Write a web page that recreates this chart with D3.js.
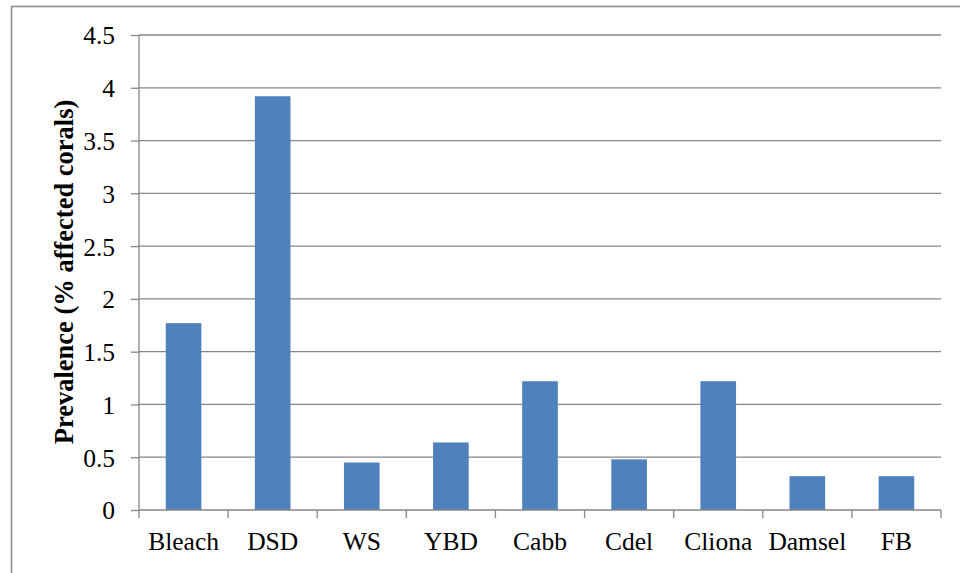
<!DOCTYPE html>
<html><head><meta charset="utf-8">
<script src="https://cdn.jsdelivr.net/npm/d3@7"></script>
<style>body{margin:0;background:#fff}svg{display:block}svg text{font-family:"Liberation Serif","Times New Roman",Times,"DejaVu Serif",serif}</style>
</head><body>
<svg id="c" width="960" height="573"></svg>
<script>
const categories = ["Bleach","DSD","WS","YBD","Cabb","Cdel","Cliona","Damsel","FB"];
const values = [1.77, 3.92, 0.45, 0.64, 1.22, 0.48, 1.22, 0.32, 0.32];
const yTicks = [0, 0.5, 1, 1.5, 2, 2.5, 3, 3.5, 4, 4.5];
const yTickLabels = ["0","0.5","1","1.5","2","2.5","3","3.5","4","4.5"];
const yTitle = "Prevalence (% affected corals)";

(function(){
const svg = d3.select("#c");
const grey = "#868686";
const pL = 139, pR = 941, pT = 35, pB = 510;

svg.append("rect").attr("x",11.5).attr("y",6.5).attr("width",1200).attr("height",800)
  .attr("fill","none").attr("stroke","#8c8c8c").attr("stroke-width",1.6);

const x = d3.scaleBand().domain(categories).range([pL,pR]).paddingInner(0.6).paddingOuter(0.3);
const xb = d3.scaleBand().domain(categories).range([pL,pR]);
const y = d3.scaleLinear().domain([0,4.5]).range([pB,pT]);

svg.append("g").selectAll("line").data(yTicks.filter(d=>d>0)).join("line")
  .attr("x1",pL).attr("x2",pR).attr("y1",d=>y(d)).attr("y2",d=>y(d))
  .attr("stroke",grey).attr("stroke-width",1.3);

svg.append("g").selectAll("rect").data(values).join("rect")
  .attr("x",(d,i)=>x(categories[i])).attr("width",x.bandwidth())
  .attr("y",d=>y(d)).attr("height",d=>y(0)-y(d)).attr("fill","#4F81BD");

const ya = d3.axisLeft(y).tickValues(yTicks).tickFormat((d,i)=>yTickLabels[i]).tickSize(8).tickPadding(16);
const gy = svg.append("g").attr("transform",`translate(${pL},0)`).call(ya);
gy.attr("font-family",null);
gy.select(".domain").attr("stroke",grey).attr("stroke-width",1.3).attr("d",`M0,${pT}V${pB}`);
gy.selectAll(".tick line").attr("stroke",grey).attr("stroke-width",1.3);
gy.selectAll(".tick text").attr("font-size",25.5).attr("fill","#000").attr("dy","0.35em");

const xa = d3.axisBottom(xb).tickSize(0).tickPadding(0);
const gx = svg.append("g").attr("transform",`translate(0,${pB})`).call(xa);
gx.attr("font-family",null);
gx.select(".domain").attr("stroke",grey).attr("stroke-width",1.3).attr("d",`M${pL},0H${pR}`);
gx.selectAll(".tick text").attr("font-size",25.5).attr("fill","#000").attr("y",40).attr("dy",0);
const bounds = categories.map(c=>xb(c)).concat([pR]);
svg.append("g").selectAll("line").data(bounds).join("line")
  .attr("x1",d=>d).attr("x2",d=>d).attr("y1",pB).attr("y2",pB+8)
  .attr("stroke",grey).attr("stroke-width",1.3);

svg.append("text").attr("transform",`translate(73,272) rotate(-90)`)
  .attr("text-anchor","middle").attr("font-weight","bold")
  .attr("font-size",26.5).attr("fill","#000").text(yTitle);
})();
</script>
</body></html>
